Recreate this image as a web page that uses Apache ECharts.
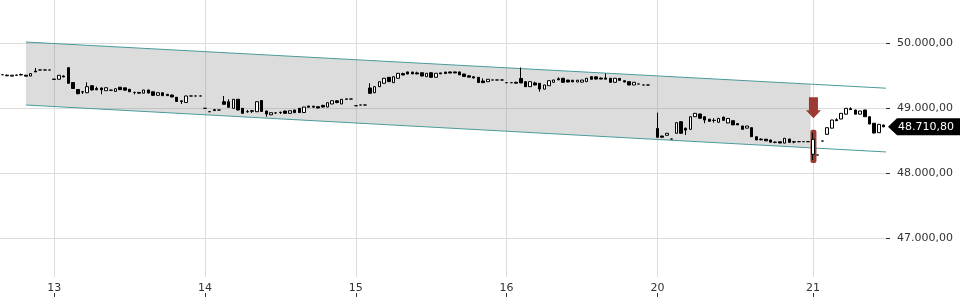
<!DOCTYPE html>
<html><head><meta charset="utf-8">
<script src="https://cdn.jsdelivr.net/npm/echarts@6/dist/echarts.min.js"></script>
<style>html,body{margin:0;padding:0;background:#fff}#c{width:960px;height:300px}</style>
</head><body><div id="c"></div>
<script>
// ---- data: [open, close, low, high] per 15-min candle ----
const dayLabels = ['12', '13', '14', '15', '16', '20', '21'];
const day12 = [
[49512,49512,49512,49512],[49505,49495,49492,49515],[49490,49505,49488,49508],[49503,49507,49498,49512],
[49515,49508,49505,49530],[49505,49490,49488,49508],[49492,49530,49490,49532],[49568,49555,49553,49615],
[49585,49585,49585,49585],[49585,49585,49585,49585],[49585,49585,49585,49585]];
const day13 = [
[49445,49440,49438,49446],[49442,49503,49440,49505],[49492,49477,49475,49503],[49620,49380,49375,49623],
[49392,49300,49295,49400],[49285,49220,49211,49292],[49250,49245,49215,49262],[49235,49328,49230,49395],
[49343,49277,49272,49345],[49300,49280,49275,49328],[49308,49280,49211,49315],[49266,49312,49262,49315],
[49275,49272,49260,49285],[49255,49297,49250,49300],[49320,49282,49278,49323],[49310,49275,49270,49312],
[49288,49250,49246,49290],[49240,49238,49211,49251],[49240,49228,49226,49243],[49228,49277,49226,49280],
[49277,49230,49226,49280],[49250,49195,49185,49252],[49195,49235,49190,49238],[49235,49190,49185,49238],
[49211,49190,49185,49213],[49200,49170,49165,49205],[49165,49100,49095,49170],[49110,49100,49062,49112],
[49085,49185,49082,49188],[49185,49185,49185,49185],[49185,49185,49185,49185],[49185,49185,49185,49185]];
const day14 = [
[48995,48995,48995,48995],[48943,48943,48943,48943],[48975,48960,48958,48985],[48969,48969,48969,48969],
[49097,49057,49055,49185],[49097,49011,49008,49134],[48995,49134,48990,49138],[49134,48969,48965,49138],
[48995,48918,48915,49000],[48945,48942,48928,48969],[48958,48950,48923,48960],[48943,49097,48940,49100],
[49115,48946,48943,49120],[48954,48908,48866,48958],[48895,48928,48892,48930],[48925,48922,48912,48930],
[48935,48930,48908,48943],[48954,48918,48915,48956],[48918,48958,48915,48960],[48969,48928,48925,48972],
[48995,48930,48925,48998],[48930,49015,48926,49018],[49030,49012,49010,49032],[49028,49013,49010,49031],
[49020,49000,48995,49022],[49040,49015,49010,49050],[49015,49082,49012,49085],[49062,49112,49060,49115],
[49110,49085,49072,49123],[49062,49134,49060,49138],[49140,49135,49132,49142],[49138,49138,49138,49138]];
const day15 = [
[49035,49035,49035,49035],[49046,49046,49046,49046],[49046,49046,49046,49046],[49308,49226,49220,49380],
[49235,49328,49230,49332],[49328,49405,49325,49410],[49380,49457,49375,49460],[49472,49405,49400,49475],
[49390,49482,49385,49485],[49457,49534,49455,49538],[49530,49508,49505,49543],[49555,49523,49520,49558],
[49552,49525,49520,49558],[49540,49525,49520,49558],[49543,49492,49490,49546],[49482,49534,49480,49536],
[49543,49472,49470,49546],[49472,49534,49470,49536],[49540,49525,49523,49543],[49552,49530,49523,49558],
[49555,49538,49534,49558],[49555,49540,49534,49560],[49555,49510,49508,49558],[49523,49485,49482,49525],
[49495,49475,49472,49508],[49480,49462,49457,49492],[49472,49392,49389,49475],[49415,49390,49389,49457],
[49405,49442,49403,49445],[49431,49431,49431,49431],[49431,49431,49431,49431],[49431,49431,49431,49431]];
const day16 = [
[49389,49389,49389,49389],[49389,49389,49389,49389],[49395,49382,49380,49405],[49454,49385,49383,49623],
[49405,49328,49325,49408],[49328,49405,49325,49408],[49385,49354,49350,49405],[49380,49292,49251,49383],
[49290,49354,49286,49357],[49343,49420,49340,49423],[49395,49431,49393,49434],[49450,49433,49430,49472],
[49457,49395,49393,49460],[49430,49400,49395,49433],[49428,49402,49398,49431],[49400,49428,49398,49431],
[49398,49430,49395,49433],[49405,49457,49403,49460],[49482,49442,49440,49485],[49480,49445,49440,49484],
[49460,49445,49442,49472],[49462,49444,49442,49531],[49457,49395,49393,49460],[49395,49457,49393,49460],
[49455,49425,49420,49460],[49420,49400,49395,49431],[49405,49354,49352,49408],[49354,49395,49352,49398],
[49369,49369,49369,49369],[49354,49354,49354,49354],[49354,49354,49354,49354],'-'];
const day20 = [
[48685,48550,48545,48928],[48569,48550,48548,48572],[48580,48611,48578,48614],[48523,48523,48523,48523],
[48611,48774,48608,48778],[48789,48611,48605,48792],[48688,48660,48585,48700],[48672,48866,48668,48870],
[48866,48918,48862,48921],[48908,48842,48838,48912],[48866,48815,48765,48870],[48828,48795,48790,48830],
[48810,48808,48774,48842],[48780,48840,48775,48845],[48860,48810,48805,48866],[48770,48840,48765,48845],
[48805,48740,48738,48810],[48760,48740,48738,48765],[48723,48672,48670,48725],[48690,48723,48688,48725],
[48697,48558,48555,48700],[48558,48508,48505,48560],[48520,48510,48505,48534],[48520,48495,48492,48523],
[48508,48475,48472,48510],[48475,48472,48457,48482],[48480,48462,48457,48482],[48460,48534,48457,48537],
[48523,48472,48470,48525],[48480,48477,48457,48492],[48482,48482,48482,48482],[48482,48482,48482,48482],
[48482,48482,48482,48482]];
const day21 = [
[48288,48518,48200,48620],[48277,48277,48277,48277],[48492,48492,48492,48492],[48595,48697,48590,48700],
[48690,48815,48685,48818],[48820,48805,48800,48842],[48831,48918,48826,48920],[48905,48995,48900,48998],
[48990,48975,48970,49011],[48969,48905,48902,48972],[48905,48954,48902,48957],[48969,48866,48862,48972],
[48866,48754,48750,48870],[48765,48615,48610,48770],[48620,48749,48615,48752],[48738,48710.8,48705,48745]];
const labeledDays = ['13', '14', '15', '16', '20', '21'];
// trend channel anchors (candle index, price)
const channelIdx = [5, 171];
const channelTop = [50015, 49369];
const channelBottom = [49046, 48389];
const signalDay = '21';
const yMin = 46000, yMax = 51000, yStep = 1000;

// ---- assemble ----
const dayData = [day12, day13, day14, day15, day16, day20, day21];
const categories = [], candles = [], dayStart = {};
dayData.forEach((d, k) => {
  d.forEach((c, j) => {
    if (j === 0) dayStart[candles.length] = dayLabels[k];
    categories.push(dayLabels[k] + ' #' + (j + 1));
    candles.push(c);
  });
});
const startIdxOf = lbl => Number(Object.keys(dayStart).find(k => dayStart[k] === lbl));
const signalIdx = startIdxOf(signalDay);
const lastIdx = candles.length - 1;
const lastPrice = candles[lastIdx][1];
const isLabeled = i => dayStart[i] !== undefined && labeledDays.includes(dayStart[i]);

function fmt(v) {
  const s = Number(v).toFixed(2).split('.');
  return s[0].replace(/\B(?=(\d{3})+(?!\d))/g, '.') + ',' + s[1];
}
const FONT = '"DejaVu Sans", sans-serif';
const GRID_C = '#dcdcdc';
const RED = '#9b3a33';

const chart = echarts.init(document.getElementById('c'), null, {renderer: 'canvas'});
chart.setOption({
  animation: false,
  grid: [
    {left: 0, right: 74, top: -22, height: 325, containLabel: false, outerBoundsMode: 'none'},
    {left: 0, right: 74, top: 0, bottom: 23, containLabel: false, outerBoundsMode: 'none'}
  ],
  xAxis: [
    {gridIndex: 0, type: 'category', data: categories, boundaryGap: true, show: false},
    {gridIndex: 1, type: 'category', data: categories, boundaryGap: true, position: 'bottom',
      axisLine: {show: false}, axisTick: {show: false},
      axisLabel: {interval: (i) => isLabeled(i), formatter: (v) => v.split(' ')[0],
        margin: 6, fontFamily: FONT, fontSize: 11, color: '#333'},
      splitLine: {show: true, interval: (i) => isLabeled(i), alignWithLabel: true,
        lineStyle: {color: GRID_C, width: 1}}},
    {gridIndex: 1, type: 'category', data: categories, boundaryGap: true, position: 'bottom', offset: 16,
      axisLine: {show: false}, axisLabel: {show: false}, splitLine: {show: false},
      axisTick: {show: true, interval: (i) => isLabeled(i), alignWithLabel: true, length: 4,
        lineStyle: {color: '#333'}}}
  ],
  yAxis: [
    {gridIndex: 0, type: 'value', position: 'right', min: yMin, max: yMax, interval: yStep,
      axisLine: {show: false}, axisTick: {show: true, length: 4, lineStyle: {color: '#333'}},
      axisLabel: {formatter: fmt, margin: 11, fontFamily: FONT, fontSize: 11, color: '#333',
        showMinLabel: false, showMaxLabel: false},
      splitLine: {show: true, lineStyle: {color: GRID_C, width: 1}}},
    {gridIndex: 1, type: 'value', show: false, min: 0, max: 1}
  ],
  series: [
    {
      type: 'custom', name: 'channel', xAxisIndex: 0, yAxisIndex: 0, z: 1, silent: true, clip: false,
      data: [[0, yMin]],
      renderItem(params, api) {
        const cs = params.coordSys;
        const bw = api.size([1, 0])[0];
        const t0 = api.coord([channelIdx[0], channelTop[0]]), t1 = api.coord([channelIdx[1], channelTop[1]]);
        const b0 = api.coord([channelIdx[0], channelBottom[0]]), b1 = api.coord([channelIdx[1], channelBottom[1]]);
        const at = (p0, p1, x) => p0[1] + (p1[1] - p0[1]) * (x - p0[0]) / (p1[0] - p0[0]);
        const xe = t1[0] + bw / 2, xr = cs.x + cs.width;
        const c = candles[signalIdx];
        const pH = api.coord([signalIdx, c[3]]), pL = api.coord([signalIdx, c[2]]);
        return {type: 'group', children: [
          {type: 'polygon', shape: {points: [t0, [xe, at(t0, t1, xe)], [xe, at(b0, b1, xe)], b0]},
            style: {fill: 'rgba(140,140,140,0.3)'}},
          {type: 'line', shape: {x1: t0[0], y1: t0[1], x2: xr, y2: at(t0, t1, xr)},
            style: {stroke: '#4b9a9a', lineWidth: 1}},
          {type: 'line', shape: {x1: b0[0], y1: b0[1], x2: xr, y2: at(b0, b1, xr)},
            style: {stroke: '#4b9a9a', lineWidth: 1}},
          {type: 'rect', shape: {x: pH[0] - 2.5, y: pH[1] - 3, width: 6, height: pL[1] - pH[1] + 6, r: 2},
            style: {fill: RED}}
        ]};
      }
    },
    {
      type: 'candlestick', name: 'price', xAxisIndex: 0, yAxisIndex: 0, z: 3,
      data: candles, barWidth: 3,
      itemStyle: {color: '#fff', color0: '#000', borderColor: '#000', borderColor0: '#000',
        borderColorDoji: '#000', borderWidth: 1}
    },
    {
      type: 'custom', name: 'signal', xAxisIndex: 0, yAxisIndex: 0, z: 5, silent: true, clip: false,
      data: [[0, yMin]],
      renderItem(params, api) {
        const cs = params.coordSys;
        const c = candles[signalIdx];
        const pH = api.coord([signalIdx, c[3]]);
        const cx = pH[0] + 0.5, t = pH[1] - 14.5;
        const yc = api.coord([lastIdx, lastPrice])[1];
        const x0 = cs.x + cs.width + 2;
        return {type: 'group', children: [
          {type: 'polygon', shape: {points: [[cx - 4.5, t - 21], [cx + 4.5, t - 21], [cx + 4.5, t - 8],
            [cx + 7.5, t - 8], [cx, t], [cx - 7.5, t - 8], [cx - 4.5, t - 8]]}, style: {fill: RED}},
          {type: 'polygon', shape: {points: [[x0, yc], [x0 + 9, yc - 8.5], [x0 + 75, yc - 8.5],
            [x0 + 75, yc + 8.5], [x0 + 9, yc + 8.5]]}, style: {fill: '#000'}},
          {type: 'text', style: {text: fmt(lastPrice), x: x0 + 10, y: yc + 0.5, fill: '#fff',
            font: '11px ' + FONT, verticalAlign: 'middle', align: 'left'}}
        ]};
      }
    }
  ]
});
</script></body></html>
